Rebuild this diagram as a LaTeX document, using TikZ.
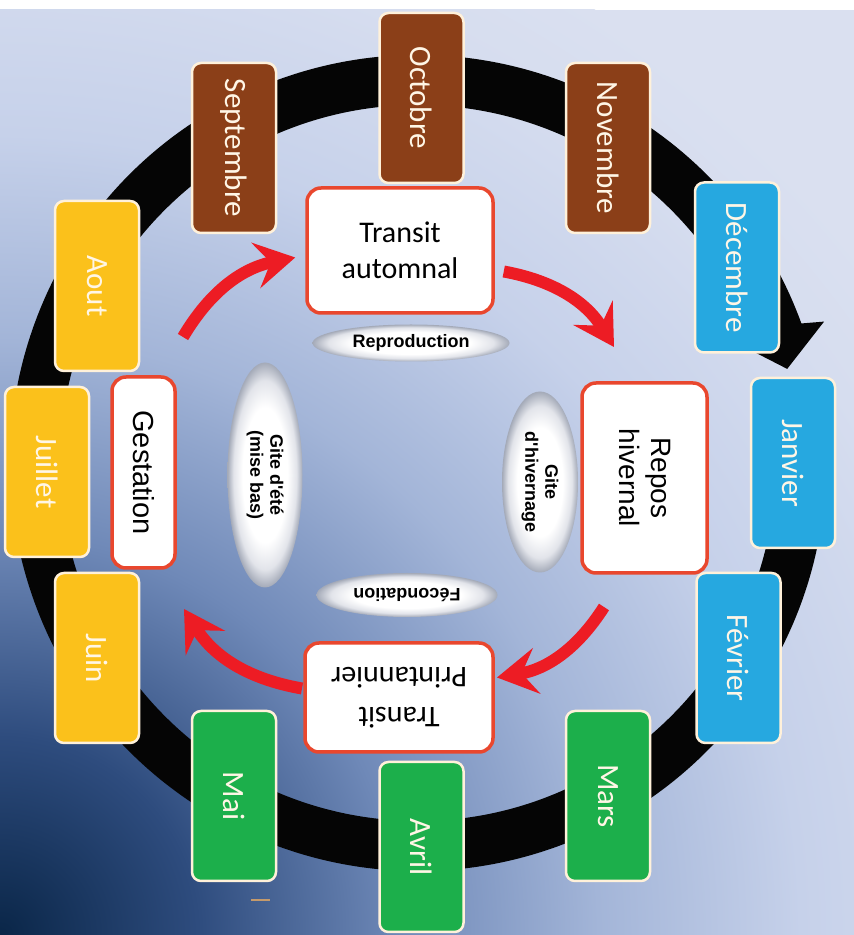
\documentclass[tikz,border=0pt]{standalone}
\usepackage{fontspec}
\setmainfont{Carlito}
\newfontfamily\arialf{Liberation Sans}
\usetikzlibrary{shapes.geometric,arrows.meta,calc}

\definecolor{bgA}{HTML}{0A2648}
\definecolor{bgB}{HTML}{2E4C7E}
\definecolor{bgC}{HTML}{6F89B8}
\definecolor{bgD}{HTML}{A3B5D8}
\definecolor{bgE}{HTML}{C6D1EA}
\definecolor{bgF}{HTML}{D6DDEF}
\definecolor{bgG}{HTML}{DAE0F0}
\definecolor{brownbox}{HTML}{8B3F18}
\definecolor{bluebox}{HTML}{26A8E0}
\definecolor{greenbox}{HTML}{1CAF4B}
\definecolor{yellowbox}{HTML}{FBC11B}
\definecolor{monthtext}{HTML}{FFF6E6}
\definecolor{creamline}{HTML}{FFF1DA}
\definecolor{arrred}{HTML}{ED1C24}
\definecolor{redborder}{HTML}{E9472E}
\definecolor{ringblack}{HTML}{050505}
\definecolor{pillA}{HTML}{E2E4EA}
\definecolor{pillB}{HTML}{A4AAB8}
\definecolor{dashtan}{HTML}{C49A6C}

\pgfdeclareradialshading{bgshade}{\pgfpoint{0bp}{0bp}}{color(0bp)=(bgA); color(4.5bp)=(bgB); color(9.1bp)=(bgC); color(13.6bp)=(bgD); color(18.2bp)=(bgE); color(22.7bp)=(bgF); color(25bp)=(bgG); color(50bp)=(bgG)}
\pgfdeclareradialshading{pill}{\pgfpoint{0bp}{0bp}}{color(0bp)=(white); color(15bp)=(white); color(21bp)=(pillA); color(25bp)=(pillB); color(50bp)=(pillB)}

\tikzset{
  month/.style={rounded corners=9pt, minimum width=170pt, minimum height=84pt,
    inner sep=0pt, rotate=-90, draw=creamline, line width=2.5pt, text=monthtext,
    font=\fontsize{31}{36}\selectfont},
  procbox/.style={rounded corners=14pt, fill=white, draw=redborder, line width=3.5pt,
    inner sep=0pt, align=center, text=black},
  pillnode/.style={ellipse, shade, shading=pill, inner sep=0pt, align=center,
    text=black, font=\arialf\bfseries\fontsize{18}{20}\selectfont},
  redarr/.style={draw=arrred, line width=12pt,
    -{Stealth[length=40pt,width=46pt,inset=15pt]}},
}

\begin{document}
\begin{tikzpicture}[x=1pt,y=1pt]
\useasboundingbox (0,0) rectangle (854,935);
\fill[white] (0,0) rectangle (854,935);
\begin{scope}
  \clip (0,0) rectangle (854,925);
  \fill[bgG] (0,0) rectangle (854,925);
  \shade[shading=bgshade] (0,0) circle (1100);
\end{scope}

% black circular arrow
\coordinate (C) at (418,472);
\fill[ringblack] ($(C)+(20:408)$) arc[start angle=20, end angle=355, radius=408]
  -- ($(C)+(355:358)$) arc[start angle=355, end angle=20, radius=358]
  -- ($(C)+(21.5:336)$) -- ($(C)+(14.3:381)$) -- ($(C)+(19.2:430)$) -- cycle;

% months
\node[month, fill=brownbox] (sep) at (234,787) {Septembre};
\node[month, fill=brownbox] (oct) at (421.5,837) {Octobre};
\node[month, fill=brownbox] (nov) at (608,787) {Novembre};
\node[month, fill=bluebox] (dec) at (737,667.5) {Décembre};
\node[month, fill=bluebox] (jan) at (793,472) {Janvier};
\node[month, fill=bluebox] (fev) at (738.5,277) {Février};
\node[month, fill=greenbox] (mar) at (608,139) {Mars};
\node[month, fill=greenbox] (avr) at (421.5,88) {Avril};
\node[month, fill=greenbox] (mai) at (234,139) {Mai};
\node[month, fill=yellowbox] (jun) at (97,277) {Juin};
\node[month, fill=yellowbox] (jul) at (47,463) {Juillet};
\node[month, fill=yellowbox] (aou) at (97,649) {Aout};

% process boxes
\node[procbox, minimum width=186pt, minimum height=125pt,
  font=\fontsize{30}{36}\selectfont] (ta) at (400,684.5) {Transit\\automnal};
\node[procbox, rotate=-90, minimum width=190pt, minimum height=125pt,
  font=\arialf\fontsize{28}{32}\selectfont] (rh) at (644.5,457) {Repos\\hivernal};
\node[procbox, rotate=-90, minimum width=191pt, minimum height=63pt,
  font=\arialf\fontsize{29}{32}\selectfont] (gest) at (143.5,462.5) {Gestation};
\node[procbox, rotate=180, minimum width=188pt, minimum height=109pt,
  font=\fontsize{30}{40}\selectfont] (tp) at (399,237.5) {Transit\\Printannier};

% pills
\node[pillnode, minimum width=197pt, minimum height=37pt] (repro) at (411,592) {Reproduction};
\node[pillnode, rotate=180, minimum width=181pt, minimum height=44pt] (fec) at (407,340) {Fécondation};
\node[pillnode, rotate=-90, minimum width=181pt, minimum height=76pt] (gh) at (540,453) {Gite\\d'hivernage};
\node[pillnode, rotate=-90, minimum width=225pt, minimum height=75pt] (ge) at (265,460) {Gite d'été\\(mise bas)};

% red arrows
\coordinate (a1) at (183,598);
\coordinate (a2) at (614,588);
\coordinate (a3) at (604,328);
\coordinate (a4) at (184,326);
\draw[redarr] (a1) to[bend left=24] ([xshift=-10pt,yshift=-7pt]ta.west);
\draw[redarr] ([xshift=9pt,yshift=-21pt]ta.east) to[bend left=24] (a2);
\draw[redarr] (a3) to[bend left=24] ([shift={(98pt,20pt)}]tp.center);
\draw[redarr] ([shift={(-97pt,9pt)}]tp.center) to[bend left=24] (a4);

% small mark
\draw[dashtan, line width=2.5pt] (251,35) -- (270,35);
\end{tikzpicture}
\end{document}
